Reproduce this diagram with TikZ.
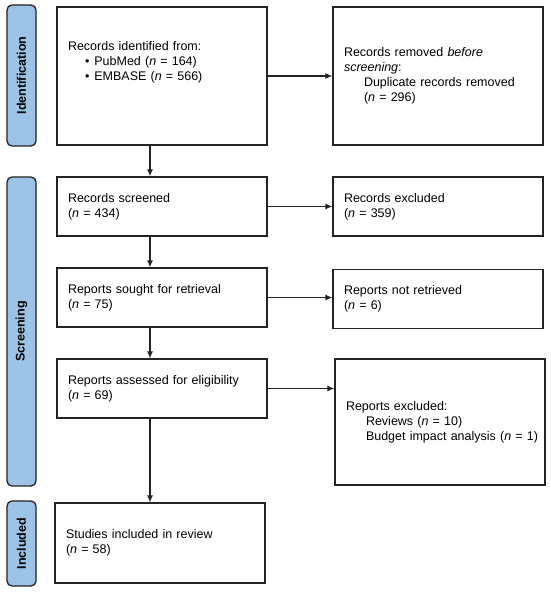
\documentclass[tikz,border=0pt]{standalone}
\usepackage{fontspec}
\setmainfont{Liberation Sans}
\usepackage{tikz}
\usetikzlibrary{positioning, arrows.meta}

\definecolor{phaseblue}{RGB}{157,195,230}
\definecolor{edgegray}{RGB}{35,35,35}

\begin{document}
\begin{tikzpicture}[
    x=1pt, y=-1pt,
    >={Latex[length=7pt,width=6pt]},
    link/.style={->, line width=1.1pt, draw=edgegray},
    box/.style={rectangle, draw=edgegray, line width=1.3pt, fill=white,
        minimum width=210pt, text width=188pt, inner xsep=11pt, inner ysep=0pt,
        align=left, font=\fontsize{12.5}{15}\selectfont},
    phase/.style={rectangle, rounded corners=5pt, draw=edgegray, line width=1.3pt,
        fill=phaseblue, rotate=90, minimum height=29pt, inner sep=0pt,
        align=center, font=\fontsize{12.5}{15}\selectfont\bfseries}
]
\useasboundingbox (0,0) rectangle (550,593);

% phases
\node[phase, minimum width=141pt] (ident) at (21.5,75.5) {Identification};
\node[phase, minimum width=309pt] (screen) at (21.5,331.5) {Screening};
\node[phase, minimum width=85pt] (incl) at (21.5,543.5) {Included};

% main column
\node[box, minimum height=138pt] (identified) at (162,76)
    {Records identified from:\\
     \hspace*{17pt}\textbullet\hspace{5pt}PubMed (\textit{n} = 164)\\
     \hspace*{17pt}\textbullet\hspace{5pt}EMBASE (\textit{n} = 566)\\
     \mbox{}\\ \mbox{}};
\node[box, minimum height=59pt] (screened) at (162,206.5)
    {Records screened\\(\textit{n} = 434)};
\node[box, minimum height=59pt] (sought) at (162,297.5)
    {Reports sought for retrieval\\(\textit{n} = 75)};
\node[box, minimum height=59pt] (assessed) at (162,388.5)
    {Reports assessed for eligibility\\(\textit{n} = 69)};
\node[box, minimum height=80pt] (included) at (160,543)
    {Studies included in review\\(\textit{n} = 58)};

% side column
\node[box, minimum height=138pt] (removed) at (438,76)
    {Records removed \textit{before}\\ \textit{screening}:\\
     \hspace*{20pt}Duplicate records removed\\
     \hspace*{20pt}(\textit{n} = 296)};
\node[box, minimum height=59pt] (excluded) at (438,206.5)
    {Records excluded\\(\textit{n} = 359)};
\node[box, minimum height=59pt] (notret) at (438,299)
    {Reports not retrieved\\(\textit{n} = 6)};
\node[box, minimum height=126pt] (repexcl) at (440,422)
    {Reports excluded:\\
     \hspace*{20pt}Reviews (\textit{n} = 10)\\
     \hspace*{20pt}\mbox{Budget impact analysis (\textit{n} = 1)}};

\coordinate (spine) at (150,0);

\draw[link] (identified.south -| spine) -- (screened.north -| spine);
\draw[link] (screened.south -| spine) -- (sought.north -| spine);
\draw[link] (sought.south -| spine) -- (assessed.north -| spine);
\draw[link] (assessed.south -| spine) -- (included.north -| spine);

\draw[link] (identified.east) -- (removed.west);
\draw[link] (screened.east) -- (excluded.west);
\draw[link] (sought.east) -- (sought.east -| notret.west);
\draw[link] (assessed.east) -- (assessed.east -| repexcl.west);

\end{tikzpicture}
\end{document}
